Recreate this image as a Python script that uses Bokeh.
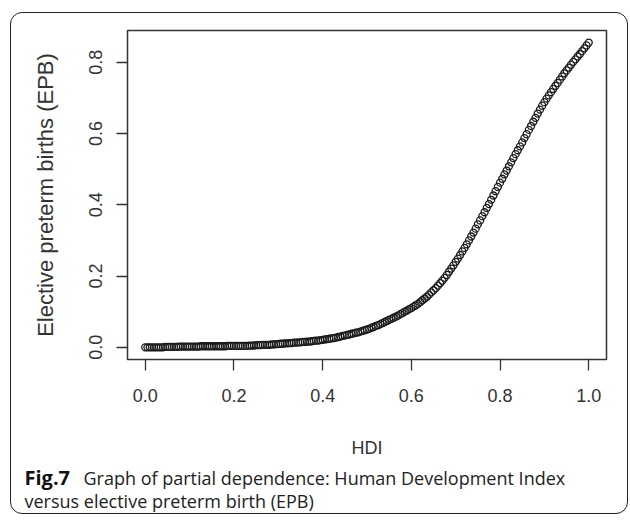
from bokeh.plotting import figure
from bokeh.models import Range1d, FixedTicker, InlineStyleSheet
from bokeh.core.properties import value
from bokeh.layouts import column
from bokeh.embed import file_html
from bokeh.resources import INLINE

# HDI grid (x) and partial dependence of elective preterm births (y)
hdi = [0.000, 0.005, 0.010, 0.015, 0.020, 0.025, 0.030, 0.035, 0.040, 0.045,
       0.050, 0.055, 0.060, 0.065, 0.070, 0.075, 0.080, 0.085, 0.090, 0.095,
       0.100, 0.105, 0.110, 0.115, 0.120, 0.125, 0.130, 0.135, 0.140, 0.145,
       0.150, 0.155, 0.160, 0.165, 0.170, 0.175, 0.180, 0.185, 0.190, 0.195,
       0.200, 0.205, 0.210, 0.215, 0.220, 0.225, 0.230, 0.235, 0.240, 0.245,
       0.250, 0.255, 0.260, 0.265, 0.270, 0.275, 0.280, 0.285, 0.290, 0.295,
       0.300, 0.305, 0.310, 0.315, 0.320, 0.325, 0.330, 0.335, 0.340, 0.345,
       0.350, 0.355, 0.360, 0.365, 0.370, 0.375, 0.380, 0.385, 0.390, 0.395,
       0.400, 0.405, 0.410, 0.415, 0.420, 0.425, 0.430, 0.435, 0.440, 0.445,
       0.450, 0.455, 0.460, 0.465, 0.470, 0.475, 0.480, 0.485, 0.490, 0.495,
       0.500, 0.505, 0.510, 0.515, 0.520, 0.525, 0.530, 0.535, 0.540, 0.545,
       0.550, 0.555, 0.560, 0.565, 0.570, 0.575, 0.580, 0.585, 0.590, 0.595,
       0.600, 0.605, 0.610, 0.615, 0.620, 0.625, 0.630, 0.635, 0.640, 0.645,
       0.650, 0.655, 0.660, 0.665, 0.670, 0.675, 0.680, 0.685, 0.690, 0.695,
       0.700, 0.705, 0.710, 0.715, 0.720, 0.725, 0.730, 0.735, 0.740, 0.745,
       0.750, 0.755, 0.760, 0.765, 0.770, 0.775, 0.780, 0.785, 0.790, 0.795,
       0.800, 0.805, 0.810, 0.815, 0.820, 0.825, 0.830, 0.835, 0.840, 0.845,
       0.850, 0.855, 0.860, 0.865, 0.870, 0.875, 0.880, 0.885, 0.890, 0.895,
       0.900, 0.905, 0.910, 0.915, 0.920, 0.925, 0.930, 0.935, 0.940, 0.945,
       0.950, 0.955, 0.960, 0.965, 0.970, 0.975, 0.980, 0.985, 0.990, 0.995,
       1.000]
epb = [0.000, 0.000, 0.000, 0.000, 0.000, 0.000, 0.000, 0.000, 0.000, 0.001,
       0.001, 0.001, 0.001, 0.001, 0.001, 0.002, 0.002, 0.002, 0.002, 0.002,
       0.002, 0.002, 0.002, 0.002, 0.002, 0.003, 0.003, 0.003, 0.003, 0.003,
       0.003, 0.003, 0.003, 0.003, 0.003, 0.003, 0.003, 0.004, 0.004, 0.004,
       0.004, 0.004, 0.004, 0.004, 0.004, 0.004, 0.004, 0.005, 0.005, 0.005,
       0.006, 0.006, 0.006, 0.007, 0.007, 0.007, 0.007, 0.008, 0.008, 0.009,
       0.009, 0.010, 0.010, 0.011, 0.011, 0.012, 0.012, 0.013, 0.013, 0.014,
       0.014, 0.015, 0.015, 0.016, 0.016, 0.017, 0.018, 0.019, 0.019, 0.020,
       0.021, 0.022, 0.023, 0.024, 0.025, 0.026, 0.027, 0.029, 0.030, 0.032,
       0.033, 0.035, 0.036, 0.038, 0.039, 0.041, 0.042, 0.044, 0.046, 0.048,
       0.050, 0.052, 0.055, 0.057, 0.060, 0.062, 0.065, 0.068, 0.071, 0.074,
       0.077, 0.080, 0.083, 0.086, 0.089, 0.093, 0.096, 0.100, 0.103, 0.107,
       0.110, 0.114, 0.118, 0.122, 0.127, 0.132, 0.137, 0.142, 0.148, 0.154,
       0.160, 0.166, 0.173, 0.180, 0.187, 0.195, 0.203, 0.212, 0.221, 0.230,
       0.240, 0.249, 0.259, 0.269, 0.279, 0.289, 0.300, 0.311, 0.322, 0.333,
       0.345, 0.356, 0.368, 0.379, 0.391, 0.402, 0.414, 0.426, 0.438, 0.450,
       0.462, 0.473, 0.485, 0.496, 0.508, 0.519, 0.531, 0.542, 0.553, 0.564,
       0.575, 0.587, 0.598, 0.610, 0.621, 0.633, 0.644, 0.656, 0.667, 0.678,
       0.688, 0.698, 0.707, 0.716, 0.725, 0.734, 0.742, 0.751, 0.760, 0.769,
       0.777, 0.785, 0.793, 0.801, 0.808, 0.816, 0.823, 0.831, 0.839, 0.847,
       0.855]

x_ticks = [0.0, 0.2, 0.4, 0.6, 0.8, 1.0]
y_ticks = [0.0, 0.2, 0.4, 0.6, 0.8]
x_tick_labels = ["0.0", "0.2", "0.4", "0.6", "0.8", "1.0"]
y_tick_labels = ["0.0", "0.2", "0.4", "0.6", "0.8"]

x_title = "HDI"
y_title = "Elective preterm births (EPB)"
caption_bold = "Fig.7"
caption_line1 = "Graph of partial dependence: Human Development Index"
caption_line2 = "versus elective preterm birth (EPB)"

W = 630
H_PLOT = 460
H_CAP = 62
INK = "#333333"
AXFONT = "Liberation Sans"
CAPFONT = "Open Sans"

p = figure(width=W, height=H_PLOT, output_backend="svg", toolbar_location=None,
           x_range=Range1d(-0.04, 1.04), y_range=Range1d(-0.0342, 0.889),
           min_border_left=127, min_border_right=24,
           min_border_top=30, min_border_bottom=97)
p.frame_align = False

p.grid.visible = False
p.outline_line_color = INK
p.outline_line_width = 1.5
p.background_fill_color = "white"
p.border_fill_color = "white"

for ax, ticks, labels in ((p.xaxis[0], x_ticks, x_tick_labels), (p.yaxis[0], y_ticks, y_tick_labels)):
    ax.ticker = FixedTicker(ticks=ticks)
    ax.major_label_overrides = {t: l for t, l in zip(ticks, labels)}
    ax.axis_line_color = None
    ax.major_tick_line_color = INK
    ax.major_tick_line_width = 1.3
    ax.major_tick_in = 0
    ax.major_tick_out = 11
    ax.minor_tick_line_color = None
    ax.major_label_text_font = AXFONT
    ax.major_label_text_font_size = "18px"
    ax.major_label_text_color = INK
    ax.axis_label_text_font = AXFONT
    ax.axis_label_text_font_style = "normal"
    ax.axis_label_text_color = INK

p.xaxis.axis_label = x_title
p.yaxis.axis_label = y_title
p.xaxis.axis_label_text_font_size = "18px"
p.yaxis.axis_label_text_font_size = "22px"
p.xaxis.major_label_standoff = 18
p.yaxis.major_label_standoff = 14
p.xaxis.axis_label_standoff = 33
p.yaxis.axis_label_standoff = 29
p.yaxis.major_label_orientation = "vertical"

p.scatter(hdi, epb, marker="circle", size=7, fill_color=None,
          line_color="#1a1a1a", line_width=1.3)

# caption panel (pixel coordinates of the caption strip)
cap = figure(width=W, height=H_CAP, output_backend="svg", toolbar_location=None,
             x_range=Range1d(0, W), y_range=Range1d(0, H_CAP),
             min_border=0)
cap.frame_align = False
cap.axis.visible = False
cap.grid.visible = False
cap.outline_line_color = None
cap.background_fill_color = "white"
cap.border_fill_color = "white"

cap.text(x=[24], y=[45], text=[caption_bold], text_font=value(CAPFONT),
         text_font_style="bold", text_font_size="20px", text_color="#111111",
         text_baseline="middle")
cap.text(x=[83], y=[45], text=[caption_line1], text_font=value(CAPFONT),
         text_font_size="18px", text_color="#222222", text_baseline="middle")
cap.text(x=[24], y=[22], text=[caption_line2], text_font=value(CAPFONT),
         text_font_size="18px", text_color="#222222", text_baseline="middle")

# rounded frame around figure and caption
frame_css = InlineStyleSheet(css="""
:host::after {
  content: "";
  position: absolute;
  left: 10px; top: 12px; width: 618px; height: 502px;
  box-sizing: border-box;
  border: 1.2px solid #222222;
  border-radius: 12px;
  pointer-events: none;
}
""")

layout = column(p, cap, spacing=0, stylesheets=[frame_css])

open("out.html", "w").write(file_html(layout, INLINE))
